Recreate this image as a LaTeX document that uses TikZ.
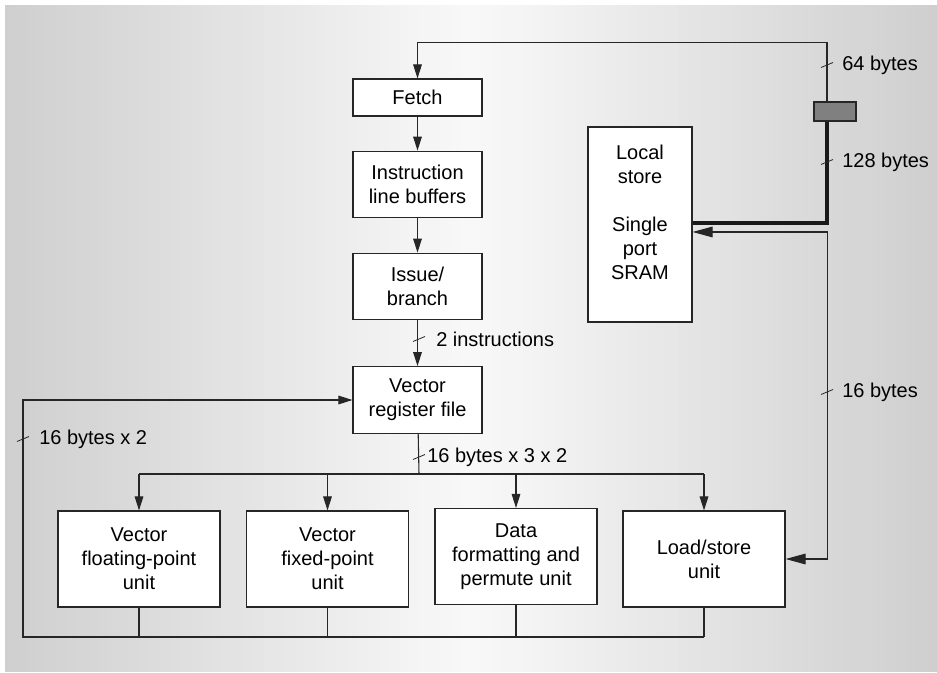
\documentclass[tikz,border=0pt]{standalone}
\usepackage{fontspec}
\setmainfont{Liberation Sans}
\usetikzlibrary{arrows.meta}

\begin{document}
\begin{tikzpicture}[x=0.75pt,y=-0.75pt]
    \tikzstyle{block} = [rectangle, draw=black!85, line width=0.9pt, fill=white, align=center, inner sep=0pt, font=\fontsize{15}{18}\selectfont]
    \tikzstyle{stage} = [block, minimum width=96.75pt, minimum height=50pt]
    \tikzstyle{unit} = [block, minimum width=121.5pt, minimum height=72pt]
    \tikzstyle{wire} = [line width=0.8pt, draw=black!85]
    \tikzstyle{arrow} = [wire,->,>={Triangle[length=10.5pt,width=6.5pt]}]
    \tikzstyle{bigarrow} = [wire,<->,>={Triangle[length=15pt,width=8pt]}]
    \tikzstyle{thickline} = [line width=3pt, draw=black!90]
    \tikzstyle{slash} = [line width=0.6pt, draw=black!85]
    \tikzstyle{lbl} = [anchor=west, inner sep=0pt, font=\fontsize{15}{18}\selectfont]

    \useasboundingbox (0,0) rectangle (937,672);
    \foreach \i in {0,...,89} {
        \pgfmathsetmacro{\xa}{5+10.3556*\i}
        \pgfmathsetmacro{\tone}{5+33*abs((\i+0.5)/45-1)}
        \fill [gray!\tone] (\xa,5) rectangle (\xa+11,672);
    }

    \node (fetch) [stage, minimum height=27.75pt] at (417.5,97.5) {Fetch};
    \node (ilb) [stage] at (417.5,184.5) {Instruction\\line buffers};
    \node (issue) [stage] at (417.5,286.5) {Issue/\\branch};
    \node (vrf) [stage] at (417.5,400) {Vector\\register file};
    \node (local) [block, minimum width=78pt, minimum height=146.25pt] at (640,224.5) {};
    \node (localtxt) [align=center, font=\fontsize{15}{18}\selectfont, yshift=9pt] at (local.center) {Local\\store\\[18pt]Single\\port\\SRAM};
    \node (buf) [rectangle, draw=black!85, line width=0.9pt, fill=black!50, inner sep=0pt, minimum width=31.5pt, minimum height=14.25pt] at (835,111.5) {};

    \node (vfp) [unit] at (139,559) {Vector\\floating-point\\unit};
    \node (vfx) [unit] at (327.5,559) {Vector\\fixed-point\\unit};
    \node (dfp) [unit] at (516,556.5) {Data\\formatting and\\permute unit};
    \node (lsu) [unit] at (704,559) {Load/store\\unit};

    \coordinate (bus) at (419,474);
    \coordinate (ret) at (23,637);

    \draw [arrow] (fetch) -- (ilb);
    \draw [arrow] (ilb) -- (issue);
    \draw [arrow] (issue) -- (vrf);
    \draw [arrow] ([xshift=-6pt]buf.north) -- ++(0,-59) -| (fetch);
    \draw [thickline] ([xshift=-6pt]buf.south) |- ([yshift=1.1pt]local.east);
    \draw [bigarrow] ([yshift=-5.6pt]local.east) -- ++(135,0) |- (lsu);

    \draw [wire] (vrf) -- (bus);
    \draw [wire] (vfp.north |- bus) -- (lsu.north |- bus);
    \foreach \u in {vfp,vfx,dfp,lsu}
        \draw [arrow] (\u.north |- bus) -- (\u);
    \foreach \u in {vfp,vfx,dfp,lsu}
        \draw [wire] (\u) -- (\u.south |- ret);
    \draw [arrow] (lsu.south |- ret) -- (ret) |- (vrf);

    \draw [slash] (827,65) ++(-6,2.5) -- ++(12,-5);
    \node (w64) [lbl] at (842,65) {64 bytes};
    \draw [slash] (827,162) ++(-6,2.5) -- ++(12,-5);
    \node (w128) [lbl] at (842,162) {128 bytes};
    \draw [slash] (827,392) ++(-6,2.5) -- ++(12,-5);
    \node (w16) [lbl] at (842,392) {16 bytes};
    \draw [slash] (419,339) ++(-6,2.5) -- ++(12,-5);
    \node (winstr) [lbl] at (436,339) {2 instructions};
    \draw [slash] (23,439) ++(-6,2.5) -- ++(12,-5);
    \node (wret) [lbl] at (39,439) {16 bytes x 2};
    \draw [slash] (419,457) ++(-6,2.5) -- ++(12,-5);
    \node (wbus) [lbl] at (427,457) {16 bytes x 3 x 2};
\end{tikzpicture}
\end{document}
